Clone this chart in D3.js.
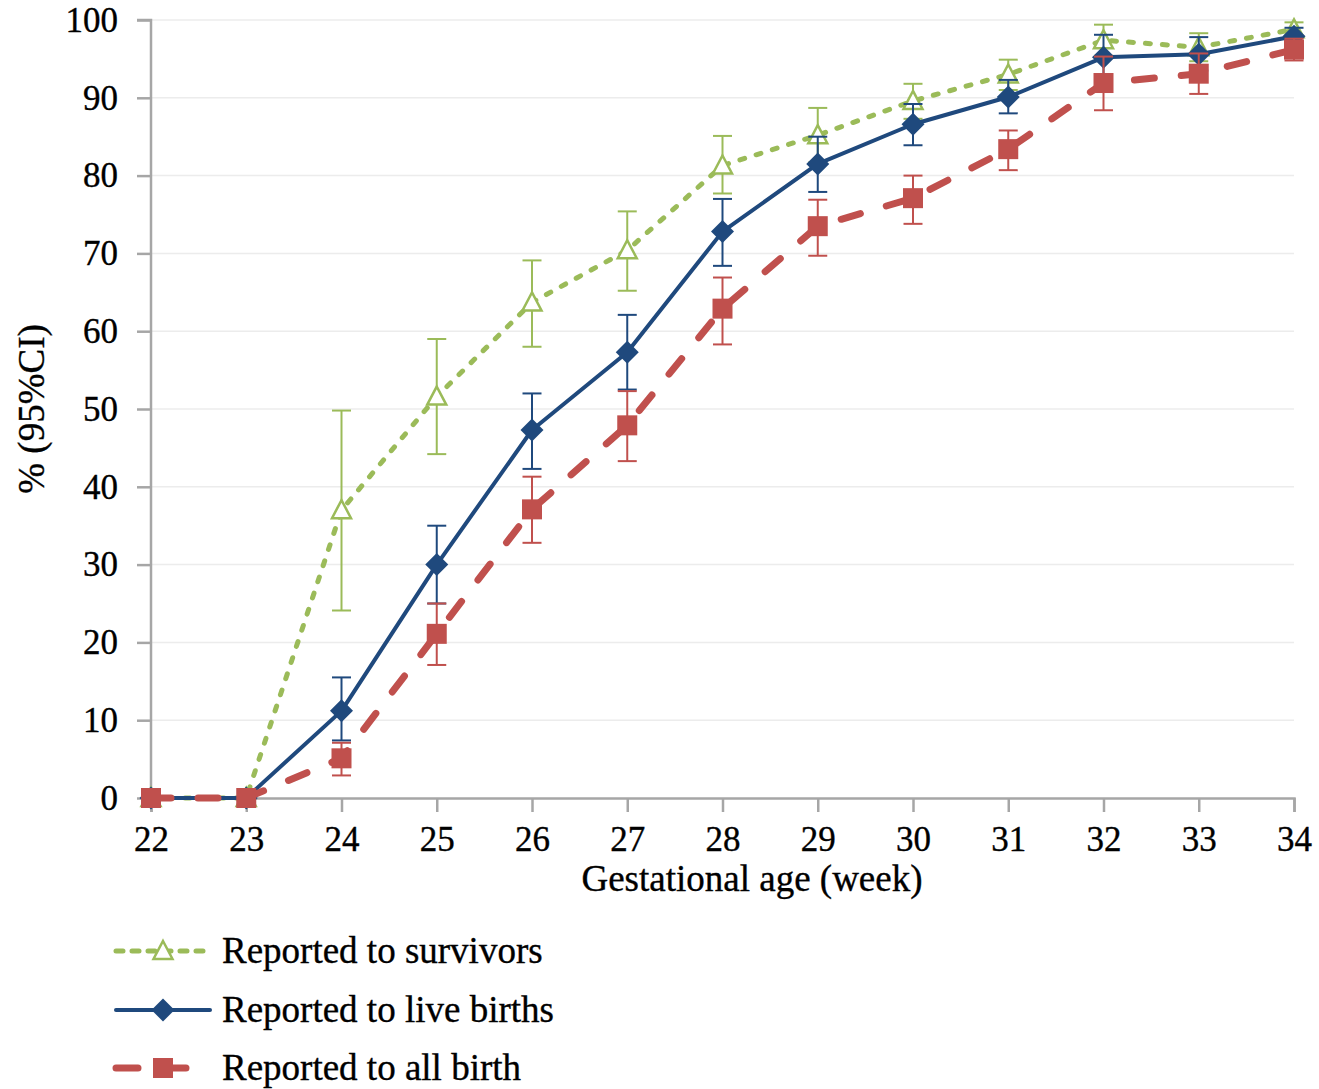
<!DOCTYPE html>
<html><head><meta charset="utf-8">
<script src="https://cdn.jsdelivr.net/npm/d3@7"></script>
<style>body{margin:0;background:#fff}svg{display:block}text{font-family:"Liberation Serif","Times New Roman",serif;fill:#000;stroke:#000;stroke-width:0.35px}</style>
</head><body>
<svg id="c" width="1319" height="1089"></svg>
<script>
const weeks = [22,23,24,25,26,27,28,29,30,31,32,33,34];
const yTicks = [0,10,20,30,40,50,60,70,80,90,100];

const survivors   = [0,0,37.0,51.6,63.7,70.4,81.3,85.2,89.6,93.0,97.4,96.5,98.8];
const survivorsLo = [0,0,24.1,44.2,58.0,65.2,77.7,81.7,87.3,91.0,95.4,94.7,97.8];
const survivorsHi = [0,0,49.8,59.0,69.1,75.4,85.1,88.7,91.8,94.9,99.4,98.3,99.7];

const liveBirths   = [0,0,11.2,30.0,47.3,57.3,72.8,81.5,86.6,90.1,95.2,95.6,97.9];
const liveBirthsLo = [0,0,7.4,25.0,42.3,52.5,68.4,77.9,83.9,88.0,92.5,93.5,96.5];
const liveBirthsHi = [0,0,15.5,35.0,52.0,62.1,77.0,85.0,89.2,92.3,98.1,97.8,99.0];

const allBirth   = [0,0,5.1,21.1,37.1,47.9,62.9,73.5,77.1,83.4,91.9,93.1,96.2];
const allBirthLo = [0,0,2.9,17.1,32.8,43.3,58.3,69.7,73.8,80.7,88.4,90.5,94.8];
const allBirthHi = [0,0,7.1,25.0,41.3,52.3,66.9,76.9,80.0,85.8,95.3,95.7,97.6];

const seriesNames = ["Reported to survivors","Reported to live births","Reported to all birth"];

const svg = d3.select("#c");
const x = d3.scaleLinear().domain([22,34]).range([151,1294]);
const y = d3.scaleLinear().domain([0,100]).range([798,20]);
const axisCol = "#a6a6a6";

// gridlines
svg.append("g").selectAll("line").data(yTicks.filter(d=>d>0)).join("line")
  .attr("x1",x(22)).attr("x2",x(34)).attr("y1",d=>y(d)).attr("y2",d=>y(d))
  .attr("stroke","#ececec").attr("stroke-width",1.5);

// axes
const gy = svg.append("g").attr("transform",`translate(${x(22)},0)`)
  .call(d3.axisLeft(y).tickValues(yTicks).tickSize(14).tickPadding(19).tickFormat(d3.format("d")));
const gx = svg.append("g").attr("transform",`translate(0,${y(0)})`)
  .call(d3.axisBottom(x).tickValues(weeks).tickSize(14).tickPadding(14).tickFormat(d3.format("d")));
[gx,gy].forEach(g=>{
  g.select(".domain").attr("stroke",axisCol).attr("stroke-width",2.5);
  g.selectAll(".tick line").attr("stroke",axisCol).attr("stroke-width",2.5);
  g.selectAll(".tick text").attr("font-size",35).attr("font-family","Liberation Serif").attr("fill","#000");
});
gy.select(".domain").attr("d",`M-14,${y(100)}H0V${y(0)}`);

svg.append("text").attr("x",752).attr("y",891).attr("text-anchor","middle")
  .attr("font-size",37).text("Gestational age (week)");
svg.append("text").attr("transform","translate(44,409) rotate(-90)").attr("text-anchor","middle")
  .attr("font-size",37).text("% (95%CI)");

const series = [
  {vals:survivors, lo:survivorsLo, hi:survivorsHi, color:"#9BBB59", width:5, dash:"5,12", cap:"round", marker:"tri"},
  {vals:liveBirths, lo:liveBirthsLo, hi:liveBirthsHi, color:"#1F497D", width:4, dash:null, cap:"round", marker:"dia"},
  {vals:allBirth, lo:allBirthLo, hi:allBirthHi, color:"#C0504D", width:7, dash:"20,27", cap:"round", marker:"sq"}
];

function drawMarker(g, type, color, cx, cy){
  if(type==="tri"){
    g.append("path").attr("d",`M${cx},${cy-10}L${cx+9.5},${cy+8}L${cx-9.5},${cy+8}Z`)
      .attr("fill","#fff").attr("stroke",color).attr("stroke-width",2.5);
  } else if(type==="dia"){
    g.append("path").attr("d",`M${cx},${cy-11.5}L${cx+11.5},${cy}L${cx},${cy+11.5}L${cx-11.5},${cy}Z`)
      .attr("fill",color);
  } else {
    g.append("rect").attr("x",cx-10).attr("y",cy-10).attr("width",20).attr("height",20).attr("fill",color);
  }
}

const line = d3.line().x((d,i)=>x(weeks[i])).y(d=>y(d));
series.forEach(s=>{
  const g = svg.append("g");
  weeks.forEach((w,i)=>{
    if(s.hi[i] > s.lo[i]){
      g.append("line").attr("x1",x(w)).attr("x2",x(w)).attr("y1",y(s.lo[i])).attr("y2",y(s.hi[i]))
        .attr("stroke",s.color).attr("stroke-width",2);
      [s.lo[i], s.hi[i]].forEach(v=>g.append("line").attr("x1",x(w)-9.5).attr("x2",x(w)+9.5)
        .attr("y1",y(v)).attr("y2",y(v)).attr("stroke",s.color).attr("stroke-width",2));
    }
  });
  g.append("path").attr("d",line(s.vals)).attr("fill","none").attr("stroke",s.color)
    .attr("stroke-width",s.width).attr("stroke-dasharray",s.dash).attr("stroke-linecap",s.cap)
    .attr("stroke-linejoin","round");
  weeks.forEach((w,i)=>drawMarker(g,s.marker,s.color,x(w),y(s.vals[i])));
});

// legend
const legY = [951,1010,1068];
series.forEach((s,i)=>{
  const g = svg.append("g");
  g.append("line").attr("x1",116).attr("x2",210).attr("y1",legY[i]).attr("y2",legY[i])
    .attr("stroke",s.color).attr("stroke-width",s.width)
    .attr("stroke-dasharray", i===0 ? "7,9" : (i===2 ? "22,26" : null))
    .attr("stroke-linecap","round");
  drawMarker(g,s.marker,s.color,163,legY[i]);
  g.append("text").attr("x",222).attr("y",legY[i]+12).attr("font-size",37).text(seriesNames[i]);
});
</script>
</body></html>
